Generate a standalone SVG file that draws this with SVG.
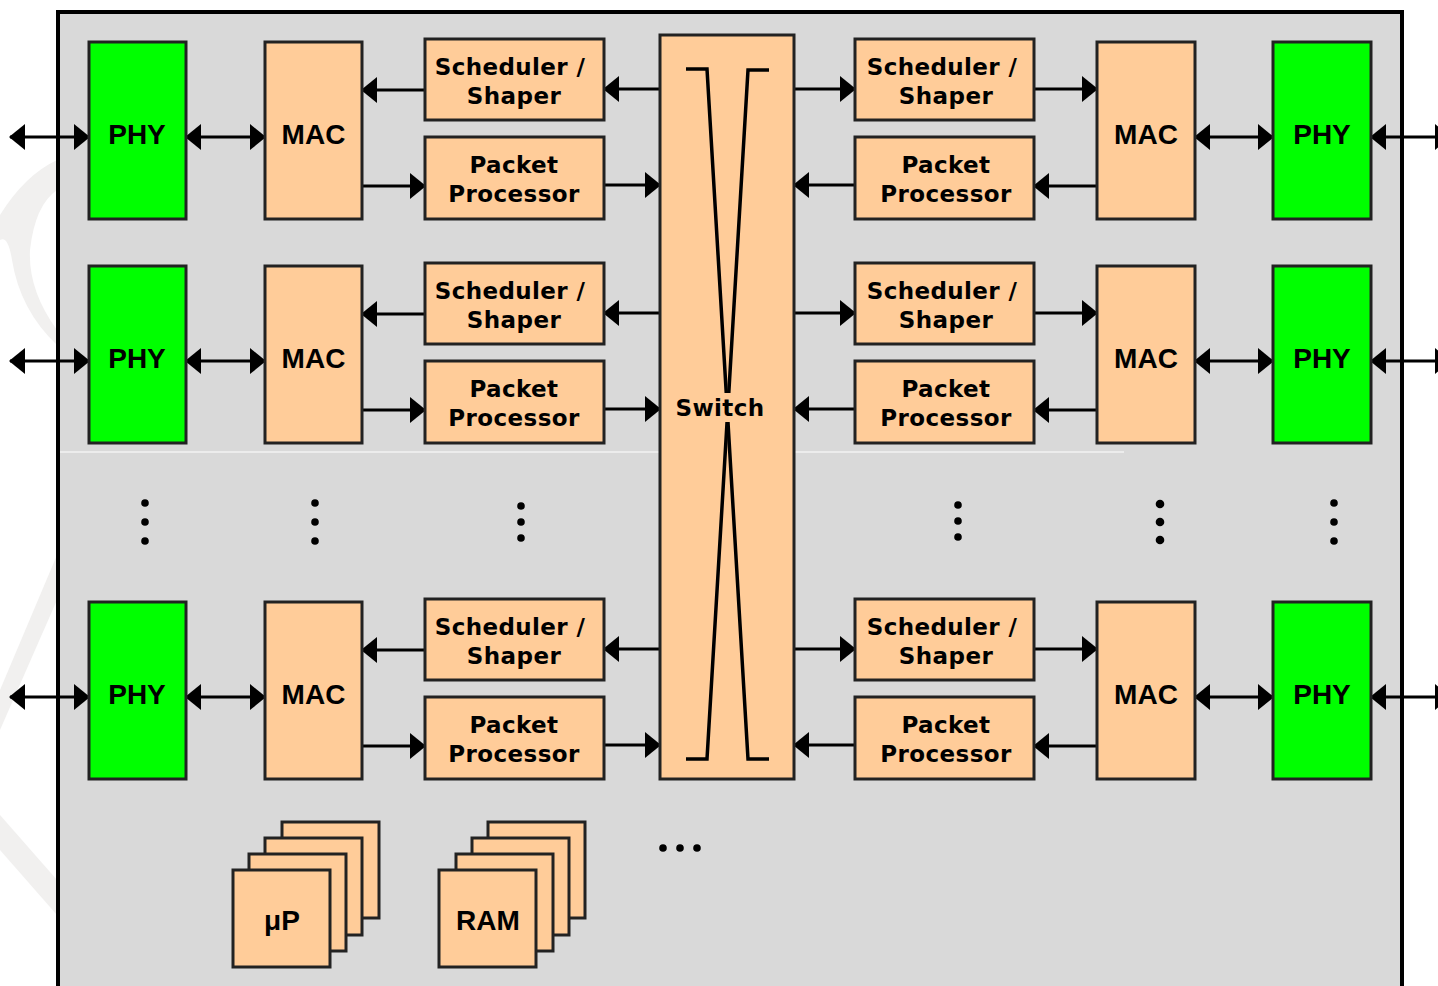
<svg xmlns="http://www.w3.org/2000/svg" width="1438" height="986" viewBox="0 0 1438 986">
<defs>
<style>
.frame{fill:#d9d9d9;stroke:#000;stroke-width:4}
.phy{fill:#00ff00;stroke:#222;stroke-width:3}
.blk{fill:#ffcc99;stroke:#222;stroke-width:3}
.big{font-family:"Liberation Sans",Arial,sans-serif;font-weight:bold;font-size:28px;text-anchor:middle;fill:#000}
.sm{font-family:"DejaVu Sans",Verdana,sans-serif;font-weight:bold;font-size:23px;letter-spacing:0.4px;text-anchor:middle;fill:#000}
.cn{stroke:#000;stroke-width:3;fill:none}
.one{marker-end:url(#ah)}
.two{marker-start:url(#ah);marker-end:url(#ah)}
.wm{fill:#f1f0ef}
.dot{fill:#000}
</style>
<marker id="ah" markerUnits="userSpaceOnUse" markerWidth="16" markerHeight="26" viewBox="0 0 16 26" refX="15" refY="13" orient="auto-start-reverse">
<path d="M0,0 L16,13 L0,26 z" fill="#000"/>
</marker>
</defs>
<rect width="1438" height="986" fill="#fff"/>
<g id="watermark">
<path class="wm" d="M0,215 Q25,175 57,160 L57,190 Q35,205 30,250 Q28,290 57,330 L57,345 Q20,310 12,260 Q8,235 0,240 z"/>
<path class="wm" d="M0,690 L57,555 L57,600 L0,730 z"/>
<path class="wm" d="M0,815 L57,880 L57,915 L0,850 z"/>
</g>
<rect class="frame" x="58" y="12" width="1344" height="1000"/>
<line x1="60" y1="452" x2="1124" y2="452" stroke="#ffffff" stroke-width="1.2"/>

<g id="connectors">
<g id="row1-conn">
<path class="cn two" d="M10,137 H89"/>
<path class="cn two" d="M186,137 H265"/>
<path class="cn one" d="M425,90 H362"/>
<path class="cn one" d="M362,186 H425"/>
<path class="cn one" d="M660,89 H604"/>
<path class="cn one" d="M604,185 H660"/>
<path class="cn one" d="M794,89 H855"/>
<path class="cn one" d="M855,185 H794"/>
<path class="cn one" d="M1034,89 H1097"/>
<path class="cn one" d="M1097,186 H1034"/>
<path class="cn two" d="M1195,137 H1273"/>
<path class="cn two" d="M1371,137 H1450"/>
</g>
<g id="row2-conn" transform="translate(0,224)">
<path class="cn two" d="M10,137 H89"/>
<path class="cn two" d="M186,137 H265"/>
<path class="cn one" d="M425,90 H362"/>
<path class="cn one" d="M362,186 H425"/>
<path class="cn one" d="M660,89 H604"/>
<path class="cn one" d="M604,185 H660"/>
<path class="cn one" d="M794,89 H855"/>
<path class="cn one" d="M855,185 H794"/>
<path class="cn one" d="M1034,89 H1097"/>
<path class="cn one" d="M1097,186 H1034"/>
<path class="cn two" d="M1195,137 H1273"/>
<path class="cn two" d="M1371,137 H1450"/>
</g>
<g id="row3-conn" transform="translate(0,560)">
<path class="cn two" d="M10,137 H89"/>
<path class="cn two" d="M186,137 H265"/>
<path class="cn one" d="M425,90 H362"/>
<path class="cn one" d="M362,186 H425"/>
<path class="cn one" d="M660,89 H604"/>
<path class="cn one" d="M604,185 H660"/>
<path class="cn one" d="M794,89 H855"/>
<path class="cn one" d="M855,185 H794"/>
<path class="cn one" d="M1034,89 H1097"/>
<path class="cn one" d="M1097,186 H1034"/>
<path class="cn two" d="M1195,137 H1273"/>
<path class="cn two" d="M1371,137 H1450"/>
</g>
</g>

<g id="switch">
<rect class="blk" x="660" y="35" width="134" height="744"/>
<path d="M686,69 H707 L748,759 H769" stroke="#000" stroke-width="3.5" fill="none"/>
<path d="M769,70 H748 L707,759 H686" stroke="#000" stroke-width="3.5" fill="none"/>
<rect x="668" y="393" width="104" height="29" fill="#ffcc99"/>
<text class="sm" x="720" y="416">Switch</text>
</g>

<!-- Row 1 -->
<g id="phyL1"><rect class="phy" x="89" y="42" width="97" height="177"/><text class="big" x="137" y="144">PHY</text></g>
<g id="macL1"><rect class="blk" x="265" y="42" width="97" height="177"/><text class="big" x="313.5" y="144">MAC</text></g>
<g id="schL1"><rect class="blk" x="425" y="39" width="179" height="81"/><text class="sm" x="510" y="75">Scheduler /</text><text class="sm" x="514" y="104">Shaper</text></g>
<g id="ppL1"><rect class="blk" x="425" y="137" width="179" height="82"/><text class="sm" x="514" y="173">Packet</text><text class="sm" x="514" y="202">Processor</text></g>
<g id="schR1"><rect class="blk" x="855" y="39" width="179" height="81"/><text class="sm" x="942" y="75">Scheduler /</text><text class="sm" x="946" y="104">Shaper</text></g>
<g id="ppR1"><rect class="blk" x="855" y="137" width="179" height="82"/><text class="sm" x="946" y="173">Packet</text><text class="sm" x="946" y="202">Processor</text></g>
<g id="macR1"><rect class="blk" x="1097" y="42" width="98" height="177"/><text class="big" x="1146" y="144">MAC</text></g>
<g id="phyR1"><rect class="phy" x="1273" y="42" width="98" height="177"/><text class="big" x="1322" y="144">PHY</text></g>

<!-- Row 2 -->
<g id="phyL2"><rect class="phy" x="89" y="266" width="97" height="177"/><text class="big" x="137" y="368">PHY</text></g>
<g id="macL2"><rect class="blk" x="265" y="266" width="97" height="177"/><text class="big" x="313.5" y="368">MAC</text></g>
<g id="schL2"><rect class="blk" x="425" y="263" width="179" height="81"/><text class="sm" x="510" y="299">Scheduler /</text><text class="sm" x="514" y="328">Shaper</text></g>
<g id="ppL2"><rect class="blk" x="425" y="361" width="179" height="82"/><text class="sm" x="514" y="397">Packet</text><text class="sm" x="514" y="426">Processor</text></g>
<g id="schR2"><rect class="blk" x="855" y="263" width="179" height="81"/><text class="sm" x="942" y="299">Scheduler /</text><text class="sm" x="946" y="328">Shaper</text></g>
<g id="ppR2"><rect class="blk" x="855" y="361" width="179" height="82"/><text class="sm" x="946" y="397">Packet</text><text class="sm" x="946" y="426">Processor</text></g>
<g id="macR2"><rect class="blk" x="1097" y="266" width="98" height="177"/><text class="big" x="1146" y="368">MAC</text></g>
<g id="phyR2"><rect class="phy" x="1273" y="266" width="98" height="177"/><text class="big" x="1322" y="368">PHY</text></g>

<!-- Row 3 -->
<g id="phyL3"><rect class="phy" x="89" y="602" width="97" height="177"/><text class="big" x="137" y="704">PHY</text></g>
<g id="macL3"><rect class="blk" x="265" y="602" width="97" height="177"/><text class="big" x="313.5" y="704">MAC</text></g>
<g id="schL3"><rect class="blk" x="425" y="599" width="179" height="81"/><text class="sm" x="510" y="635">Scheduler /</text><text class="sm" x="514" y="664">Shaper</text></g>
<g id="ppL3"><rect class="blk" x="425" y="697" width="179" height="82"/><text class="sm" x="514" y="733">Packet</text><text class="sm" x="514" y="762">Processor</text></g>
<g id="schR3"><rect class="blk" x="855" y="599" width="179" height="81"/><text class="sm" x="942" y="635">Scheduler /</text><text class="sm" x="946" y="664">Shaper</text></g>
<g id="ppR3"><rect class="blk" x="855" y="697" width="179" height="82"/><text class="sm" x="946" y="733">Packet</text><text class="sm" x="946" y="762">Processor</text></g>
<g id="macR3"><rect class="blk" x="1097" y="602" width="98" height="177"/><text class="big" x="1146" y="704">MAC</text></g>
<g id="phyR3"><rect class="phy" x="1273" y="602" width="98" height="177"/><text class="big" x="1322" y="704">PHY</text></g>

<g id="vdots">
<circle class="dot" cx="145" cy="503" r="3.8"/><circle class="dot" cx="145" cy="522" r="3.8"/><circle class="dot" cx="145" cy="541" r="3.8"/>
<circle class="dot" cx="315" cy="503" r="3.8"/><circle class="dot" cx="315" cy="522" r="3.8"/><circle class="dot" cx="315" cy="541" r="3.8"/>
<circle class="dot" cx="521" cy="506" r="3.8"/><circle class="dot" cx="521" cy="522" r="3.8"/><circle class="dot" cx="521" cy="538" r="3.8"/>
<circle class="dot" cx="958" cy="505" r="3.8"/><circle class="dot" cx="958" cy="521" r="3.8"/><circle class="dot" cx="958" cy="537" r="3.8"/>
<circle class="dot" cx="1160" cy="504" r="4.3"/><circle class="dot" cx="1160" cy="522" r="4.3"/><circle class="dot" cx="1160" cy="540" r="4.3"/>
<circle class="dot" cx="1334" cy="503" r="3.8"/><circle class="dot" cx="1334" cy="522" r="3.8"/><circle class="dot" cx="1334" cy="541" r="3.8"/>
</g>

<g id="uP">
<rect class="blk" x="282" y="822" width="97" height="96"/>
<rect class="blk" x="265" y="838" width="97" height="97"/>
<rect class="blk" x="249" y="854" width="97" height="97"/>
<rect class="blk" x="233" y="870" width="97" height="97"/>
<text class="big" x="282" y="930">μP</text>
</g>
<g id="RAM">
<rect class="blk" x="488" y="822" width="97" height="96"/>
<rect class="blk" x="472" y="838" width="97" height="97"/>
<rect class="blk" x="456" y="854" width="97" height="97"/>
<rect class="blk" x="439" y="870" width="97" height="97"/>
<text class="big" x="488" y="930">RAM</text>
</g>
<g id="hdots">
<circle class="dot" cx="663" cy="848" r="3.8"/><circle class="dot" cx="680" cy="848" r="3.8"/><circle class="dot" cx="697" cy="848" r="3.8"/>
</g>
</svg>
